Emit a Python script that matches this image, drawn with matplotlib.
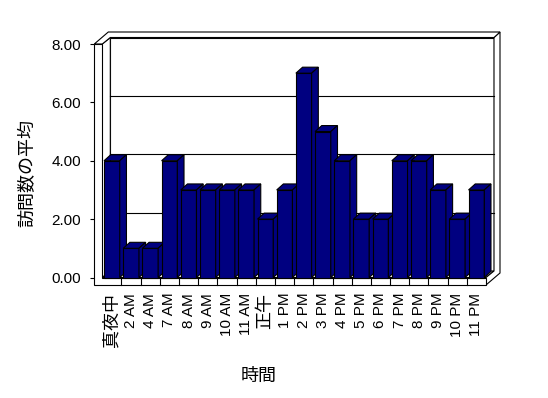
import numpy as np
import matplotlib.pyplot as plt

# data
hours = ['真夜中', '2 AM', '4 AM', '7 AM', '8 AM', '9 AM', '10 AM', '11 AM', '正午',
         '1 PM', '2 PM', '3 PM', '4 PM', '5 PM', '6 PM', '7 PM', '8 PM', '9 PM',
         '10 PM', '11 PM']
visits = [4, 1, 1, 4, 3, 3, 3, 3, 2, 3, 7, 5, 4, 2, 2, 4, 4, 3, 2, 3]
yticks = [0, 2, 4, 6, 8]
ytick_labels = ['0.00', '2.00', '4.00', '6.00', '8.00']

plt.rcParams['font.family'] = ['Liberation Sans', 'Noto Sans CJK JP']

W, H = 548, 398
fig = plt.figure(figsize=(W / 100, H / 100), dpi=100)
ax = fig.add_axes([102.3 / W, 1 - 277.5 / H, 383.7 / W, 233.5 / H])

n = len(hours)
x0, x1 = -0.5, n - 0.5
ymax = yticks[-1]
ax.set_xlim(x0, x1)
ax.set_ylim(0, ymax)

# pixel sizes of the fake 3d box, in data units
ux = (x1 - x0) / 383.7
uy = ymax / 233.5
dx, dy = 8 * ux, 6.5 * uy      # floor depth
tx, ty = 6 * ux, 5.5 * uy      # back wall thickness
wall = 8 * ux                  # left wall thickness
fl = 7.5 * uy                  # floor thickness
bdx, bdy = 6.7 * ux, 6 * uy    # bar depth
bw = 0.82
navy = '#000080'
lw = 0.8


def face(xs, ys, color='white', z=1):
    ax.fill(xs, ys, facecolor=color, edgecolor='black', lw=lw, zorder=z, clip_on=False)


# back wall + gridlines
face([x0 + dx, x1 + dx, x1 + dx, x0 + dx], [dy, dy, ymax + dy, ymax + dy])
for v in yticks[1:-1]:
    ax.plot([x0 + dx, x1 + dx], [v + dy, v + dy], color='black', lw=lw, zorder=1.5, clip_on=False)

# left wall inner side, floor top
face([x0, x0 + dx, x0 + dx, x0], [0, dy, ymax + dy, ymax])
face([x0, x1, x1 + dx, x0 + dx], [0, 0, dy, dy])

# right side of floor and back wall
face([x1, x1 + dx + tx, x1 + dx + tx, x1 + dx, x1 + dx, x1],
     [-fl, -fl + dy + ty, ymax + dy + ty, ymax + dy, dy, 0])

# tops of walls
face([x0 - wall, x0, x0 + dx, x1 + dx, x1 + dx + tx, x0 - wall + dx + tx],
     [ymax, ymax, ymax + dy, ymax + dy, ymax + dy + ty, ymax + dy + ty])

# front of left wall and floor
face([x0 - wall, x1, x1, x0, x0, x0 - wall], [-fl, -fl, 0, 0, ymax, ymax])
for b in np.arange(x0 + 1, x1):
    ax.plot([b, b], [-fl, 0], color='black', lw=lw, zorder=2, clip_on=False)

# bars
for i, v in enumerate(visits):
    z = 10 + i
    ax.bar(i, v, width=bw, color=navy, edgecolor='black', lw=lw, zorder=z, clip_on=False)
    l, r = i - bw / 2, i + bw / 2
    face([l, r, r + bdx, l + bdx], [v, v, v + bdy, v + bdy], navy, z)
    face([r, r + bdx, r + bdx, r], [0, bdy, v + bdy, v], navy, z)

# axes
for s in ax.spines.values():
    s.set_visible(False)
ax.spines['left'].set_position(('outward', 8 * 0.72))

ax.set_xticks(range(n))
ax.set_xticklabels(hours, rotation=90)
ax.tick_params(axis='x', length=0, pad=11, labelsize=11)
for lab in ax.get_xticklabels():
    if not lab.get_text().isascii():
        lab.set_fontsize(13)

ax.set_yticks(yticks, ytick_labels)
ax.tick_params(axis='y', length=3, width=lw, pad=6.5, labelsize=11)

fig.text(28 / W, 1 - 173 / H, '訪問数の平均', rotation=90, ha='center', va='center', fontsize=13)
fig.text(259 / W, 1 - 376 / H, '時間', ha='center', va='center', fontsize=13)

fig.savefig('out.png', dpi=100)
